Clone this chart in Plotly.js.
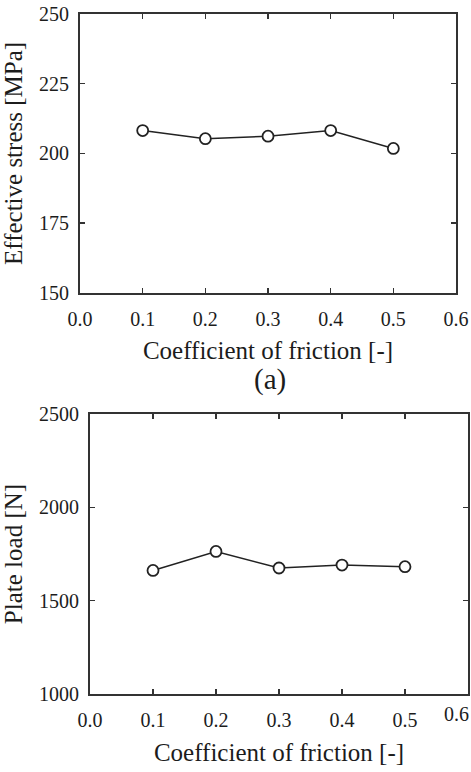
<!DOCTYPE html>
<html>
<head>
<meta charset="utf-8">
<script src="https://cdn.plot.ly/plotly-3.0.1.min.js"></script>
<style>
  html, body { margin: 0; padding: 0; background: #fff; font-family: 'Liberation Serif', serif; }
  #chart { width: 471px; height: 772px; }
</style>
</head>
<body>
<div id="chart"></div>
<script>
// Friction sweep results
const friction = [0.1, 0.2, 0.3, 0.4, 0.5];
const effectiveStress = [208.2, 205.3, 206.2, 208.2, 201.8];   // MPa
const plateLoad = [1662, 1764, 1675, 1691, 1682];               // N

const xTicks = [0.0, 0.1, 0.2, 0.3, 0.4, 0.5, 0.6];
const stressTicks = [150, 175, 200, 225, 250];
const loadTicks = [1000, 1500, 2000, 2500];

const SERIF = 'Liberation Serif';
const INK = '#1c1c1c';
const AXIS = '#333333';

const tickFont = { family: SERIF, size: 20, color: INK };
const titleFont = { family: SERIF, size: 25, color: INK };

const lineStyle = { color: '#222', width: 1.5 };
const markerStyle = { symbol: 'circle', size: 11, color: '#ffffff', line: { color: '#222', width: 1.8 } };

const traces = [
  { x: friction, y: effectiveStress, xaxis: 'x', yaxis: 'y', type: 'scatter', mode: 'lines+markers',
    line: lineStyle, marker: markerStyle },
  { x: friction, y: plateLoad, xaxis: 'x2', yaxis: 'y2', type: 'scatter', mode: 'lines+markers',
    line: lineStyle, marker: markerStyle }
];

function xAxis(domain, anchor) {
  return {
    domain: domain, anchor: anchor, range: [0, 0.6],
    tickvals: xTicks, ticktext: xTicks.map(v => v.toFixed(1)),
    ticks: 'inside', ticklen: 5, tickwidth: 1.5, tickcolor: AXIS,
    showline: true, linecolor: AXIS, linewidth: 2, mirror: 'ticks',
    showgrid: false, zeroline: false, ticklabelstandoff: 7,
    tickfont: tickFont,
    title: { text: 'Coefficient of friction [-]', standoff: 13, font: titleFont }
  };
}

function yAxis(domain, anchor, range, ticks, label) {
  return {
    domain: domain, anchor: anchor, range: range, tickvals: ticks,
    ticks: 'inside', ticklen: 5, tickwidth: 1.5, tickcolor: AXIS,
    showline: true, linecolor: AXIS, linewidth: 2, mirror: 'ticks',
    showgrid: false, zeroline: false, ticklabelstandoff: 5,
    tickfont: tickFont,
    title: { text: label, standoff: 10, font: titleFont }
  };
}

const layout = {
  width: 471, height: 772,
  margin: { l: 0, r: 0, t: 0, b: 0 },
  paper_bgcolor: '#ffffff', plot_bgcolor: '#ffffff',
  showlegend: false,
  xaxis: xAxis([0.1699, 0.9682], 'y'),
  yaxis: yAxis([0.6205, 0.9819], 'x', [150, 250], stressTicks, 'Effective stress [MPa]'),
  xaxis2: xAxis([0.1911, 0.9936], 'y2'),
  yaxis2: yAxis([0.1010, 0.4637], 'x2', [1000, 2500], loadTicks, 'Plate load [N]'),
  annotations: [
    { text: '(a)', xref: 'paper', yref: 'paper', x: 0.573, y: 0.5078,
      xanchor: 'center', yanchor: 'middle', showarrow: false,
      font: { family: SERIF, size: 29, color: INK } },
    // last tick label of the lower axis sits against the page edge
    { text: xTicks[6].toFixed(1), xref: 'paper', yref: 'paper', x: 1, y: 0.1010,
      xanchor: 'right', yanchor: 'top', yshift: -7, showarrow: false, font: tickFont }
  ]
};

Plotly.newPlot('chart', traces, layout, { displayModeBar: false, staticPlot: true });
</script>
</body>
</html>
